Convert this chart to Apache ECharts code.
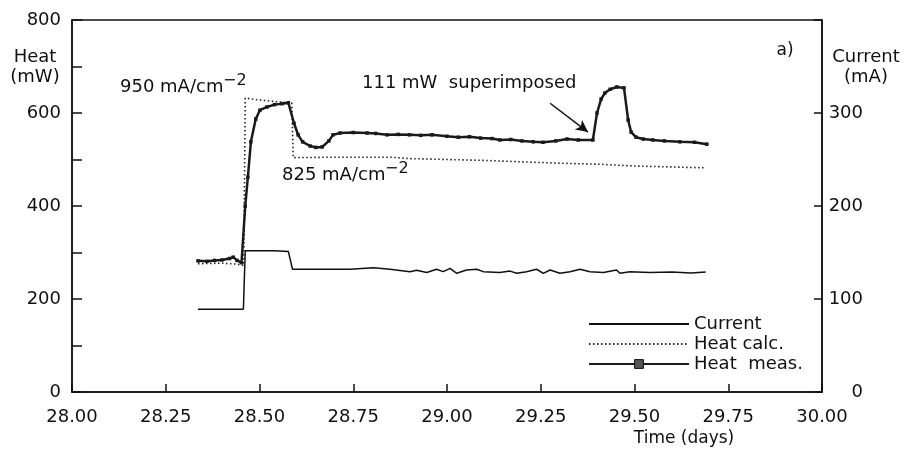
<!DOCTYPE html>
<html>
<head>
<meta charset="utf-8">
<script src="https://cdn.jsdelivr.net/npm/echarts@6/dist/echarts.min.js"></script>
<style>
html, body { margin: 0; padding: 0; background: #fff; }
#chart { width: 908px; height: 466px; }
</style>
</head>
<body>
<div id="chart"></div>
<script>
// x ticks (days)
const timeTicks = [28.00, 28.25, 28.50, 28.75, 29.00, 29.25, 29.50, 29.75, 30.00];

// Current (mA, right axis)
const currentTime = [28.336, 28.457, 28.462, 28.50, 28.54, 28.577, 28.588, 28.652, 28.741, 28.804,
  28.848, 28.901, 28.919, 28.946, 28.972, 28.990, 29.008, 29.026, 29.052, 29.079,
  29.097, 29.141, 29.168, 29.186, 29.212, 29.239, 29.257, 29.275, 29.301, 29.328,
  29.355, 29.381, 29.417, 29.452, 29.461, 29.488, 29.541, 29.60, 29.65, 29.69];
const currentMA = [89, 89, 152, 152, 152, 151, 132, 132, 132, 133.7,
  132, 129.4, 131, 128.5, 132, 129.4, 133, 127.6, 131.2, 132,
  129.4, 128.5, 130, 127.6, 129.4, 132, 127.6, 131.2, 127.6, 129.4,
  132, 129.4, 128.5, 131.2, 127.6, 129.4, 128.5, 129, 128, 129];

// Heat calc. (mW)
const calcTime = [28.336, 28.40, 28.44, 28.458, 28.462, 28.50, 28.55, 28.586, 28.590, 28.70,
  28.85, 28.90, 29.00, 29.10, 29.20, 29.30, 29.40, 29.50, 29.60, 29.69];
const calcMW = [276, 277, 275, 272, 632, 628, 624, 622, 504, 505,
  505, 502, 500, 498, 495, 492, 490, 486, 484, 482];

// Heat meas. (mW)
const measTime = [28.336, 28.36, 28.38, 28.40, 28.42, 28.43, 28.44, 28.452, 28.462, 28.469,
  28.477, 28.490, 28.501, 28.52, 28.54, 28.56, 28.577, 28.592, 28.603, 28.615,
  28.635, 28.65, 28.667, 28.685, 28.696, 28.715, 28.75, 28.787, 28.81, 28.84,
  28.87, 28.90, 28.93, 28.96, 29.00, 29.03, 29.06, 29.09, 29.12, 29.141,
  29.17, 29.20, 29.23, 29.256, 29.29, 29.32, 29.35, 29.389, 29.40, 29.411,
  29.421, 29.435, 29.453, 29.472, 29.483, 29.491, 29.504, 29.523, 29.549, 29.58,
  29.621, 29.66, 29.693];
const measMW = [282, 281, 283, 284, 287, 290, 283, 278, 400, 462,
  538, 587, 606, 613, 618, 620, 622, 578, 553, 538,
  529, 526, 527, 540, 553, 557, 558, 557, 556, 553,
  554, 553, 552, 553, 550, 548, 549, 546, 545, 542,
  543, 540, 538, 537, 540, 544, 542, 542, 600, 630,
  643, 651, 656, 654, 585, 559, 548, 544, 542, 540,
  538, 537, 533];

// arrow for "111 mW superimposed"
const arrowFrom = [29.275, 621];
const arrowTo = [29.376, 559];

const FONT = 'DejaVu Sans';
const INK = '#111';

const zip = (xs, ys) => xs.map((x, i) => [x, ys[i]]);

const chart = echarts.init(document.getElementById('chart'));

const option = {
  animation: false,
  textStyle: { fontFamily: FONT, color: INK },
  grid: {
    left: 72, right: 86, top: 20, bottom: 74,
    show: true, borderColor: INK, borderWidth: 1.5
  },
  xAxis: {
    type: 'value', min: 28, max: 30, interval: 0.25,
    axisLine: { lineStyle: { color: INK, width: 1.5 } },
    axisTick: { inside: true, length: 8, lineStyle: { color: INK, width: 1.5 } },
    axisLabel: {
      margin: 16, fontSize: 18, color: INK, fontFamily: FONT,
      formatter: v => v.toFixed(2)
    },
    splitLine: { show: false }
  },
  yAxis: [
    {
      type: 'value', min: 0, max: 800, interval: 100, position: 'left',
      axisLine: { show: true, lineStyle: { color: INK, width: 1.5 } },
      axisTick: { show: true, inside: true, length: 10, lineStyle: { color: INK, width: 1.5 } },
      axisLabel: {
        margin: 11, fontSize: 18, color: INK, fontFamily: FONT,
        formatter: v => (v % 200 === 0 ? String(v) : '')
      },
      splitLine: { show: false }
    },
    {
      type: 'value', min: 0, max: 400, interval: 100, position: 'right',
      axisLine: { show: true, lineStyle: { color: INK, width: 1.5 } },
      axisTick: { show: true, inside: true, length: 8, lineStyle: { color: INK, width: 1.5 } },
      axisLabel: {
        margin: 41, align: 'right', fontSize: 18, color: INK, fontFamily: FONT,
        formatter: v => (v === 400 ? '' : String(v))
      },
      splitLine: { show: false }
    }
  ],
  legend: {
    orient: 'vertical', left: 583, top: 309,
    itemWidth: 100, itemHeight: 11, itemGap: 0,
    textStyle: { fontSize: 18, color: INK, lineHeight: 20, fontFamily: FONT },
    data: [
      { name: 'Current', itemStyle: { opacity: 0 } },
      { name: 'Heat calc.', itemStyle: { opacity: 0 } },
      { name: 'Heat  meas.', itemStyle: { color: '#555', borderColor: INK, borderWidth: 1 } }
    ]
  },
  graphic: [
    { type: 'text', style: { text: 'Heat\n(mW)', x: 35, y: 47, align: 'center', verticalAlign: 'top', fontSize: 18, fontFamily: FONT, lineHeight: 20, fill: INK } },
    { type: 'text', style: { text: 'Current\n(mA)', x: 866, y: 47, align: 'center', verticalAlign: 'top', fontSize: 18, fontFamily: FONT, lineHeight: 20, fill: INK } },
    { type: 'text', style: { text: 'a)', x: 785, y: 42, align: 'center', verticalAlign: 'top', fontSize: 17, fontFamily: FONT, fill: INK } },
    { type: 'text', style: { text: 'Time (days)', x: 684, y: 430, align: 'center', verticalAlign: 'top', fontSize: 17, fontFamily: FONT, fill: INK } },
    { type: 'text', style: { text: '950 mA/cm', x: 120, y: 78, verticalAlign: 'top', fontSize: 18, fontFamily: FONT, fill: INK } },
    { type: 'text', style: { text: '\u22122', x: 223, y: 73, verticalAlign: 'top', fontSize: 16, fontFamily: FONT, fill: INK } },
    { type: 'text', style: { text: '825 mA/cm', x: 282, y: 166, verticalAlign: 'top', fontSize: 18, fontFamily: FONT, fill: INK } },
    { type: 'text', style: { text: '\u22122', x: 385, y: 161, verticalAlign: 'top', fontSize: 16, fontFamily: FONT, fill: INK } },
    { type: 'text', style: { text: '111 mW  superimposed', x: 362, y: 74, verticalAlign: 'top', fontSize: 18, fontFamily: FONT, fill: INK } }
  ],
  series: [
    {
      name: 'Current', type: 'line', yAxisIndex: 1,
      data: zip(currentTime, currentMA),
      symbol: 'none',
      lineStyle: { color: INK, width: 1.5 },
      itemStyle: { color: INK },
      emphasis: { disabled: true }
    },
    {
      name: 'Heat calc.', type: 'line', yAxisIndex: 0,
      data: zip(calcTime, calcMW),
      symbol: 'none',
      lineStyle: { color: '#222', width: 1.6, type: [1.5, 2.5] },
      itemStyle: { color: '#222' },
      emphasis: { disabled: true }
    },
    {
      name: 'Heat  meas.', type: 'line', yAxisIndex: 0,
      data: zip(measTime, measMW),
      symbol: 'rect', symbolSize: 3.5, showSymbol: true,
      lineStyle: { color: '#1a1a1a', width: 2.5 },
      itemStyle: { color: '#1a1a1a', borderWidth: 0 },
      emphasis: { disabled: true },
      markLine: {
        silent: true,
        symbol: ['none', 'arrow'],
        symbolSize: [9, 12],
        label: { show: false },
        lineStyle: { color: INK, width: 1.5, type: 'solid' },
        data: [[{ coord: arrowFrom }, { coord: arrowTo }]]
      }
    }
  ]
};

chart.setOption(option);
</script>
</body>
</html>
